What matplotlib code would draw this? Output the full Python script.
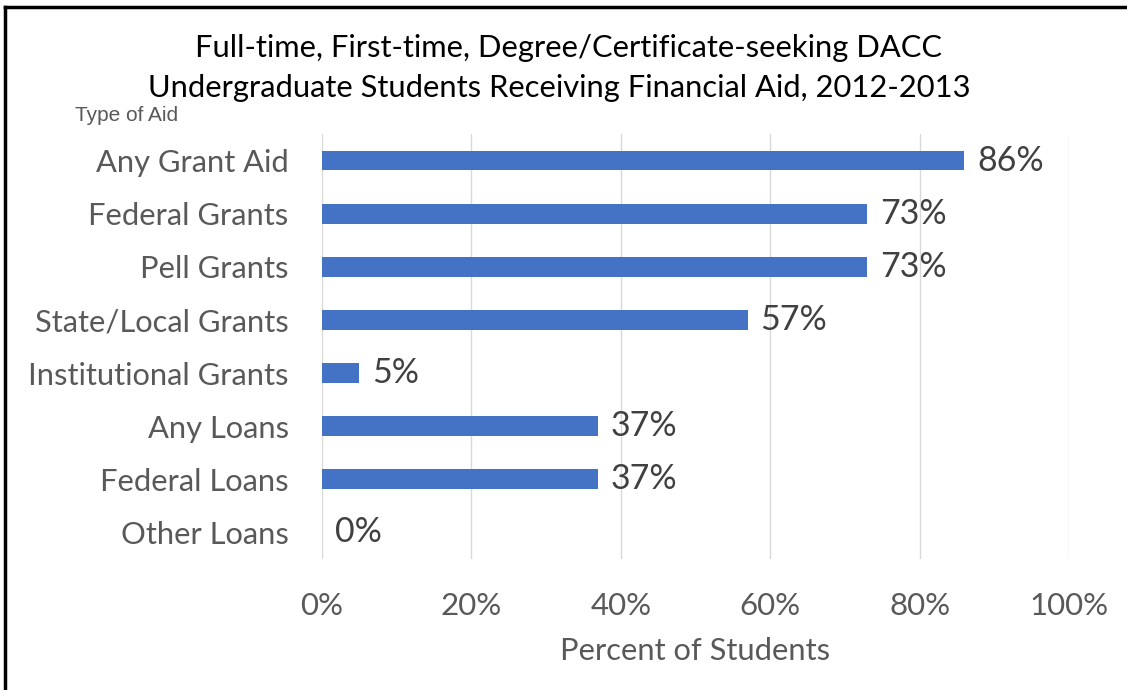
import matplotlib.pyplot as plt
from matplotlib.lines import Line2D

categories = ['Any Grant Aid', 'Federal Grants', 'Pell Grants', 'State/Local Grants',
              'Institutional Grants', 'Any Loans', 'Federal Loans', 'Other Loans']
percents = [86, 73, 73, 57, 5, 37, 37, 0]
xticks = [0, 20, 40, 60, 80, 100]

plt.rcParams['font.family'] = ['Lato', 'DejaVu Sans']

fig = plt.figure(figsize=(11.27, 6.9), dpi=100)
ax = fig.add_axes([0.2857, 0.1899, 0.6628, 0.6159])

y = list(range(len(categories)))
ax.barh(y, percents, height=0.37, color='#4472C4')
for yi, v in zip(y, percents):
    ax.text(v + 1.7, yi, f'{v}%', va='center', ha='left', fontsize=24.5, color='#404040')

ax.set_xlim(0, 100)
ax.set_ylim(len(categories) - 0.5, -0.5)
ax.set_yticks(y)
ax.set_yticklabels(categories, fontsize=22.2, color='#595959')
ax.set_xticks(xticks)
ax.set_xticklabels([f'{t}%' for t in xticks], fontsize=22.5, color='#595959')
ax.tick_params(axis='y', length=0, pad=24)
ax.tick_params(axis='x', length=0, pad=24)
ax.grid(axis='x', color='#D9D9D9', linewidth=1)
ax.set_axisbelow(True)
for s in ax.spines.values():
    s.set_visible(False)

ax.set_xlabel('Percent of Students', fontsize=22.2, color='#595959', labelpad=12)

fig.text(0.504, 0.930, 'Full-time, First-time, Degree/Certificate-seeking DACC',
         ha='center', va='center', fontsize=22.2, color='black')
fig.text(0.496, 0.873, 'Undergraduate Students Receiving Financial Aid, 2012-2013',
         ha='center', va='center', fontsize=22.2, color='black')
fig.text(0.0666, 0.832, 'Type of Aid', ha='left', va='center', fontsize=15,
         color='#595959', family=['Liberation Sans', 'DejaVu Sans'])

# border lines (top and left only visible)
fig.add_artist(Line2D([0.0045, 1.0], [0.9905, 0.9905], color='black', linewidth=2.5,
                      transform=fig.transFigure))
fig.add_artist(Line2D([0.0045, 0.0045], [0.0, 0.9905], color='black', linewidth=2.5,
                      transform=fig.transFigure))

fig.savefig('out.png', dpi=100)
